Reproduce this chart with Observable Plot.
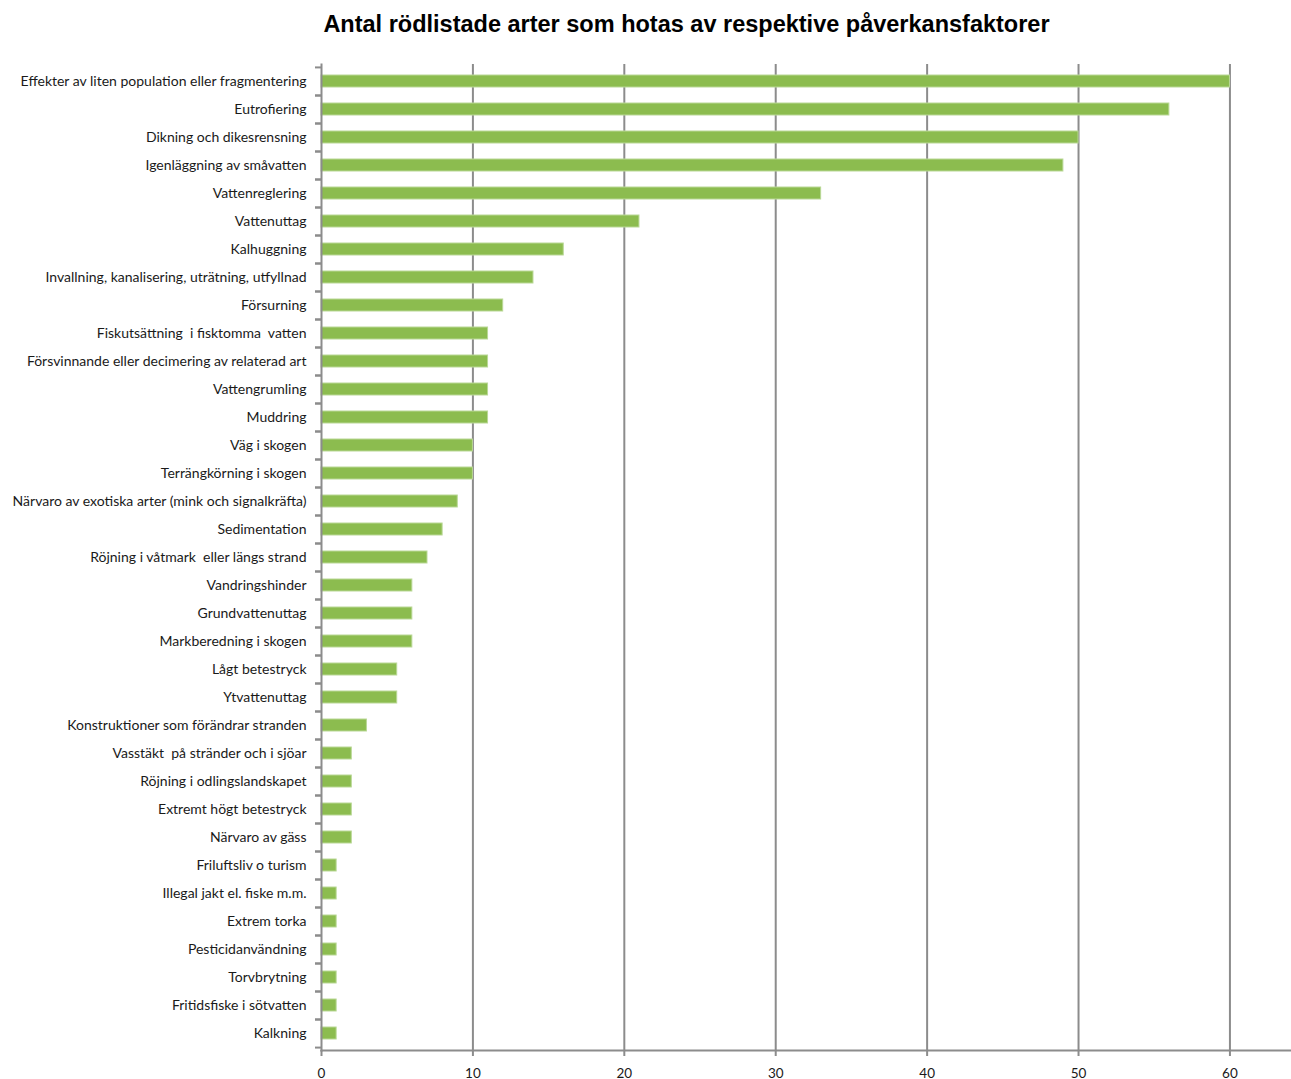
<!DOCTYPE html>
<html>
<head>
<meta charset="utf-8">
<script src="https://cdn.jsdelivr.net/npm/d3@7"></script>
<script src="https://cdn.jsdelivr.net/npm/@observablehq/plot@0.6"></script>
<style>
  html, body { margin: 0; padding: 0; background: #fff; }
  #title { width: 1291px; box-sizing: border-box; padding-left: 82px; height: 50px; text-align: center;
    font-family: "Liberation Sans", Arial, sans-serif; font-weight: bold; font-size: 23.5px; line-height: 48px; color: #000; }
  #chart svg { display: block; }
</style>
</head>
<body>
<div id="title">Antal rödlistade arter som hotas av respektive påverkansfaktorer</div>
<div id="chart"></div>
<script>
const categories = [
  "Effekter av liten population eller fragmentering",
  "Eutrofiering",
  "Dikning och dikesrensning",
  "Igenläggning av småvatten",
  "Vattenreglering",
  "Vattenuttag",
  "Kalhuggning",
  "Invallning, kanalisering, uträtning, utfyllnad",
  "Försurning",
  "Fiskutsättning  i fisktomma  vatten",
  "Försvinnande eller decimering av relaterad art",
  "Vattengrumling",
  "Muddring",
  "Väg i skogen",
  "Terrängkörning i skogen",
  "Närvaro av exotiska arter (mink och signalkräfta)",
  "Sedimentation",
  "Röjning i våtmark  eller längs strand",
  "Vandringshinder",
  "Grundvattenuttag",
  "Markberedning i skogen",
  "Lågt betestryck",
  "Ytvattenuttag",
  "Konstruktioner som förändrar stranden",
  "Vasstäkt  på stränder och i sjöar",
  "Röjning i odlingslandskapet",
  "Extremt högt betestryck",
  "Närvaro av gäss",
  "Friluftsliv o turism",
  "Illegal jakt el. fiske m.m.",
  "Extrem torka",
  "Pesticidanvändning",
  "Torvbrytning",
  "Fritidsfiske i sötvatten",
  "Kalkning"
];
const values = [60, 56, 50, 49, 33, 21, 16, 14, 12, 11, 11, 11, 11, 10, 10, 9, 8, 7, 6, 6, 6, 5, 5, 3, 2, 2, 2, 2, 1, 1, 1, 1, 1, 1, 1];
const xTicks = [0, 10, 20, 30, 40, 50, 60];

const data = categories.map((c, i) => ({category: c, value: values[i]}));

const W = 1291, H = 1029, mT = 14, mB = 29, mL = 321, mR = 1;
const step = (H - mT - mB) / categories.length;
const gray = "#8c8c8c";
const font = "Lato, 'Open Sans', sans-serif";

const chart = Plot.plot({
  width: W, height: H,
  marginLeft: mL, marginRight: mR, marginTop: mT, marginBottom: mB,
  style: {fontFamily: font, fontSize: "14px", color: "#1a1a1a", background: "#fff", overflow: "visible"},
  x: {domain: [0, 64]},
  y: {domain: categories, paddingInner: 0.57, paddingOuter: 0.285},
  marks: [
    Plot.gridX(xTicks.filter(d => d > 0), {stroke: gray, strokeWidth: 2, strokeOpacity: 1}),
    Plot.barX(data, {x: "value", y: "category", fill: "#8cbc4f", stroke: "#b9d896", strokeWidth: 1}),
    Plot.frame({anchor: "bottom", stroke: gray, strokeWidth: 2}),
    Plot.frame({anchor: "left", stroke: gray, strokeWidth: 2}),
    Plot.axisX(xTicks, {tickSize: 6, tickPadding: 12, stroke: gray, strokeWidth: 2, fontSize: 13.5, label: null, fill: "#1a1a1a"}),
    Plot.axisY({tickSize: 0, tickPadding: 15, fontSize: 14, label: null, fill: "#1a1a1a"}),
    Plot.axisY({text: null, tickSize: 6, dy: step / 2, stroke: gray, strokeWidth: 2, label: null}),
    Plot.axisY({text: null, tickSize: 6, dy: -step / 2, stroke: gray, strokeWidth: 2, label: null})
  ]
});
document.getElementById("chart").appendChild(chart);
</script>
</body>
</html>
